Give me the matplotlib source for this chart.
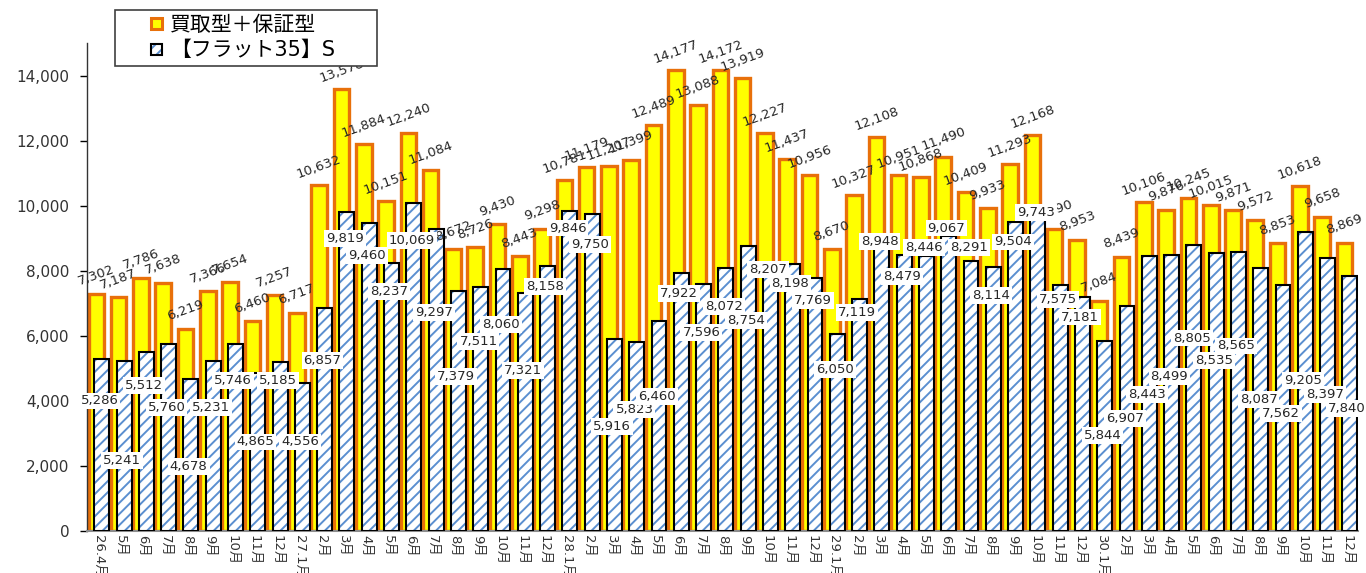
import numpy as np
import matplotlib.pyplot as plt
from matplotlib.patches import Patch, Rectangle
from matplotlib.legend_handler import HandlerPatch

plt.rcParams['font.family'] = ['DejaVu Sans', 'Noto Sans CJK JP']
plt.rcParams['hatch.linewidth'] = 1.4

# months (平成26年4月 - 平成30年12月)
months = ['26.4月', '5月', '6月', '7月', '8月', '9月', '10月', '11月', '12月',
          '27.1月', '2月', '3月', '4月', '5月', '6月', '7月', '8月', '9月', '10月', '11月', '12月',
          '28.1月', '2月', '3月', '4月', '5月', '6月', '7月', '8月', '9月', '10月', '11月', '12月',
          '29.1月', '2月', '3月', '4月', '5月', '6月', '7月', '8月', '9月', '10月', '11月', '12月',
          '30.1月', '2月', '3月', '4月', '5月', '6月', '7月', '8月', '9月', '10月', '11月', '12月']

# 買取型＋保証型
kaitori_hosho = [7302, 7187, 7786, 7638, 6219, 7366, 7654, 6460, 7257,
                 6717, 10632, 13578, 11884, 10151, 12240, 11084, 8672, 8726, 9430, 8443, 9298,
                 10781, 11179, 11207, 11399, 12489, 14177, 13088, 14172, 13919, 12227, 11437, 10956,
                 8670, 10327, 12108, 10951, 10868, 11490, 10409, 9933, 11293, 12168, 9290, 8953,
                 7084, 8439, 10106, 9876, 10245, 10015, 9871, 9572, 8853, 10618, 9658, 8869]

# 【フラット35】S
flat35s = [5286, 5241, 5512, 5760, 4678, 5231, 5746, 4865, 5185,
           4556, 6857, 9819, 9460, 8237, 10069, 9297, 7379, 7511, 8060, 7321, 8158,
           9846, 9750, 5916, 5823, 6460, 7922, 7596, 8072, 8754, 8207, 8198, 7769,
           6050, 7119, 8948, 8479, 8446, 9067, 8291, 8114, 9504, 9743, 7575, 7181,
           5844, 6907, 8443, 8499, 8805, 8535, 8565, 8087, 7562, 9205, 8397, 7840]

# where the hand-placed 【フラット35】S labels sit (centre height)
s_label_y = [4000, 2180, 4480, 3790, 1975, 3790, 4615, 2740, 4615,
             2740, 5250, 9005, 8475, 7370, 8935, 6715, 4740, 5815, 6355, 4945, 7520,
             9315, 8810, 3205, 3735, 4145, 7300, 6100, 6890, 6460, 8035, 7605, 7090,
             4975, 6715, 8905, 7830, 8710, 9315, 8710, 7250, 8885, 9785, 7125, 6580,
             2925, 3460, 4205, 4740, 5935, 5250, 5690, 4055, 3615, 4615, 4195, 3765]

YELLOW = '#FFFF00'
ORANGE = '#E8700A'
BLUE = '#5B8FD0'
TXT = '#262626'

x = np.arange(len(months))
xa = x - 0.1     # 買取型＋保証型 bar centres
xb = x + 0.145   # フラット35S bar centres

fig = plt.figure(figsize=(13.66, 5.73), dpi=100)
ax = fig.add_axes([0.064, 0.073, 0.930, 0.852])

ax.bar(xa, kaitori_hosho, 0.7, color=YELLOW, edgecolor=ORANGE, linewidth=2.4, zorder=2)
ax.bar(xb, flat35s, 0.67, color='white', edgecolor=BLUE, hatch='///', linewidth=0, zorder=3)
ax.bar(xb, flat35s, 0.67, color='none', edgecolor='black', linewidth=1.5, zorder=4)

# value labels
for i, v in enumerate(kaitori_hosho):
    ax.annotate(f'{v:,}', (xa[i], v), xytext=(0, 13), textcoords='offset points',
                rotation=20, ha='center', va='center', fontsize=9.5, color=TXT, zorder=5)

# the S labels sit a little left of their bars; keep the last one inside the figure
s_label_x = np.minimum(xb - 0.1, len(months) - 1.0)
for i, v in enumerate(flat35s):
    ax.text(s_label_x[i], s_label_y[i], f'{v:,}', ha='center', va='center', fontsize=9.5,
            color=TXT, zorder=6, clip_on=False,
            bbox=dict(boxstyle='square,pad=0.15', fc='white', ec='none'))

# axes styling
ax.set_xlim(-0.5, len(months) - 0.5)
ax.set_ylim(0, 15000)
ax.set_yticks(range(0, 14001, 2000))
ax.set_yticklabels([f'{t:,}' for t in range(0, 14001, 2000)])
ax.set_xticks(x)
ax.set_xticklabels(months, rotation=-90, fontsize=9.5, color='#333333')
ax.tick_params(axis='x', length=0, pad=3)
ax.tick_params(axis='y', length=5, width=1, direction='out', labelsize=11,
               labelcolor='#333333', pad=8)

ax.spines['top'].set_visible(False)
ax.spines['right'].set_visible(False)
ax.spines['bottom'].set_color('#8c8c8c')
ax.spines['bottom'].set_linewidth(1.5)
ax.spines['left'].set_color('#333333')
ax.spines['left'].set_linewidth(1)


def right_square(legend, orig_handle, xdescent, ydescent, width, height, fontsize):
    s = height * 0.75
    return Rectangle((-xdescent + width - s, -ydescent + (height - s) / 2), s, s)


handles = [Patch(facecolor=YELLOW, edgecolor=ORANGE, linewidth=2.2),
           (Patch(facecolor='white', edgecolor=BLUE, hatch='///', linewidth=0),
            Patch(facecolor='none', edgecolor='black', linewidth=1.5))]
labels = ['買取型＋保証型', '【フラット35】S']

leg = fig.legend(handles, labels, loc='upper left',
                 bbox_to_anchor=(115 / 1366, 0.80, 262 / 1366, 1 - 10 / 573 - 0.80),
                 mode='expand', fontsize=15, frameon=True, fancybox=False,
                 edgecolor='#404040', framealpha=1, borderpad=0.25, labelspacing=0.25,
                 handlelength=2.0, handletextpad=0.4, borderaxespad=0,
                 handler_map={Patch: HandlerPatch(patch_func=right_square)})
leg.get_frame().set_linewidth(1.2)
leg.set_zorder(10)

fig.savefig('out.png', dpi=100)
